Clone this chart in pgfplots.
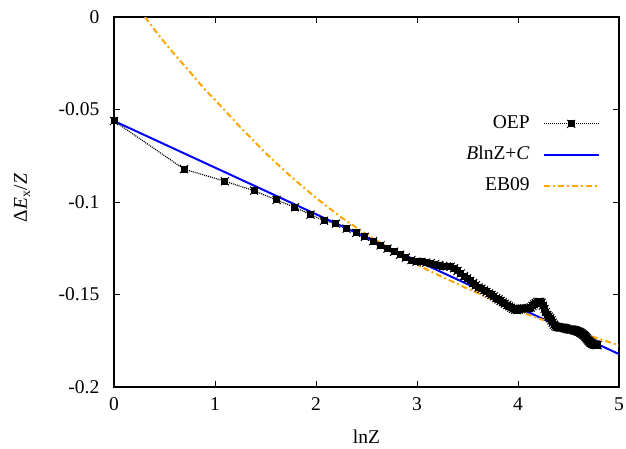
\documentclass[border=0pt]{standalone}
\usepackage{fontspec}
\setmainfont{Liberation Serif}
\usepackage{pgfplots}
\usepackage{pgfplotstable}
\pgfplotsset{compat=1.18}
\definecolor{ebor}{RGB}{255,165,0}
\pgfdeclareplotmark{sqx}{%
  \pgfpathrectangle{\pgfpoint{-0.75\pgfplotmarksize}{-0.75\pgfplotmarksize}}{\pgfpoint{1.5\pgfplotmarksize}{1.5\pgfplotmarksize}}%
  \pgfusepathqfillstroke
  \pgfpathmoveto{\pgfpoint{-\pgfplotmarksize}{-\pgfplotmarksize}}\pgfpathlineto{\pgfpoint{\pgfplotmarksize}{\pgfplotmarksize}}%
  \pgfpathmoveto{\pgfpoint{-\pgfplotmarksize}{\pgfplotmarksize}}\pgfpathlineto{\pgfpoint{\pgfplotmarksize}{-\pgfplotmarksize}}%
  \pgfusepathqstroke}
\pgfplotstableread{
x y
0.0000 -0.0562
0.6931 -0.0822
1.0986 -0.0888
1.3863 -0.0939
1.6094 -0.0989
1.7918 -0.1029
1.9459 -0.1068
2.0794 -0.1101
2.1972 -0.1117
2.3026 -0.1144
2.3979 -0.1167
2.4849 -0.1188
2.5649 -0.1212
2.6391 -0.1235
2.7081 -0.1252
2.7726 -0.1269
2.8332 -0.1285
2.8904 -0.1300
2.9444 -0.1314
2.9957 -0.1322
3.0445 -0.1324
3.0910 -0.1328
3.1355 -0.1331
3.1781 -0.1336
3.2189 -0.1341
3.2581 -0.1346
3.2958 -0.1348
3.3322 -0.1350
3.3673 -0.1358
3.4012 -0.1372
3.4340 -0.1386
3.4657 -0.1400
3.4965 -0.1413
3.5264 -0.1426
3.5553 -0.1438
3.5835 -0.1450
3.6109 -0.1462
3.6376 -0.1469
3.6636 -0.1477
3.6889 -0.1486
3.7136 -0.1494
3.7377 -0.1502
3.7612 -0.1510
3.7842 -0.1519
3.8067 -0.1526
3.8286 -0.1535
3.8501 -0.1542
3.8712 -0.1550
3.8918 -0.1557
3.9120 -0.1564
3.9318 -0.1571
3.9512 -0.1577
3.9703 -0.1582
3.9890 -0.1584
4.0073 -0.1582
4.0254 -0.1578
4.0431 -0.1576
4.0604 -0.1575
4.0775 -0.1575
4.0943 -0.1574
4.1109 -0.1573
4.1271 -0.1570
4.1431 -0.1562
4.1589 -0.1553
4.1744 -0.1546
4.1897 -0.1541
4.2047 -0.1539
4.2195 -0.1540
4.2341 -0.1545
4.2485 -0.1560
4.2627 -0.1578
4.2767 -0.1595
4.2905 -0.1610
4.3041 -0.1620
4.3175 -0.1628
4.3307 -0.1640
4.3438 -0.1652
4.3567 -0.1663
4.3694 -0.1670
4.3820 -0.1675
4.3944 -0.1676
4.4067 -0.1677
4.4188 -0.1678
4.4308 -0.1679
4.4427 -0.1680
4.4543 -0.1681
4.4659 -0.1682
4.4773 -0.1684
4.4886 -0.1686
4.4998 -0.1688
4.5109 -0.1689
4.5218 -0.1690
4.5326 -0.1690
4.5433 -0.1691
4.5539 -0.1693
4.5643 -0.1694
4.5747 -0.1696
4.5850 -0.1698
4.5951 -0.1700
4.6052 -0.1702
4.6151 -0.1705
4.6250 -0.1708
4.6347 -0.1712
4.6444 -0.1716
4.6540 -0.1721
4.6634 -0.1726
4.6728 -0.1732
4.6821 -0.1738
4.6913 -0.1744
4.7005 -0.1751
4.7095 -0.1756
4.7185 -0.1760
4.7274 -0.1763
4.7362 -0.1766
4.7449 -0.1768
4.7536 -0.1770
4.7622 -0.1771
4.7707 -0.1772
4.7791 -0.1773
4.7875 -0.1774
}\oep
\pgfplotstableread{
x y
0.0 -0.0562
5.0 -0.1822
}\fit
\pgfplotstableread{
x y
0.307 0.0000
0.40 -0.0068
0.50 -0.0137
0.60 -0.0202
0.75 -0.0296
0.90 -0.0392
1.00 -0.0448
1.25 -0.0595
1.50 -0.0735
1.75 -0.0862
2.00 -0.0978
2.25 -0.1083
2.50 -0.1175
2.75 -0.1257
3.00 -0.1340
3.25 -0.1405
3.50 -0.1468
3.75 -0.1528
4.00 -0.1588
4.25 -0.1638
4.50 -0.1687
4.75 -0.1730
5.00 -0.1775
}\ebnine
\begin{document}
\fontsize{19.5}{23}\selectfont
\begin{tikzpicture}
\useasboundingbox (0,0) rectangle (626pt,448pt);
\begin{axis}[
  at={(114pt,61pt)}, anchor=south west,
  scale only axis, width=505pt, height=370pt,
  xmin=0, xmax=5, ymin=-0.2, ymax=0,
  axis line style={line width=1.5pt},
  tick align=inside,
  major tick length=6pt,
  tick style={line width=1pt, black},
  xtick={0,1,2,3,4,5},
  xticklabels={0,1,2,3,4,5},
  ytick={-0.2,-0.15,-0.1,-0.05,0},
  yticklabels={-0.2,-0.15,-0.1,-0.05,0},
  xticklabel style={yshift=-4pt},
  yticklabel style={xshift=-8pt},
  xlabel={lnZ},
  ylabel={Δ\textit{E}\textsubscript{x}/\textit{Z}},
  xlabel style={at={(axis description cs:0.5,-0.135)}, anchor=center},
  ylabel style={at={(axis description cs:-0.182,0.511)}, anchor=center},
  legend cell align=right,
  legend plot pos=right,
  legend style={draw=none, fill=none, at={(rel axis cs:0.962,0.736)}, anchor=north east,
    inner sep=0pt, row sep=13pt, column sep=13pt,
    nodes={inner sep=0pt, text height=14pt, text depth=4pt}},
  legend image code/.code={\draw[mark repeat=2,mark phase=2,#1] plot coordinates {(0pt,0pt) (27.5pt,0pt) (55pt,0pt)};},
]
\addplot[black, line width=1.2pt, dash pattern=on 1pt off 1pt, mark=sqx, mark size=4pt,
  mark options={solid, fill=black, line width=1pt}] table[x=x,y=y] {\oep};
\addlegendentry{OEP}
\addplot[blue, line width=2pt] table[x=x,y=y] {\fit};
\addlegendentry{\textit{B}lnZ+\textit{C}}
\addplot[ebor, line width=2pt, dash pattern=on 6pt off 3pt on 2pt off 3pt] table[x=x,y=y] {\ebnine};
\addlegendentry{EB09}
\end{axis}
\end{tikzpicture}
\end{document}
